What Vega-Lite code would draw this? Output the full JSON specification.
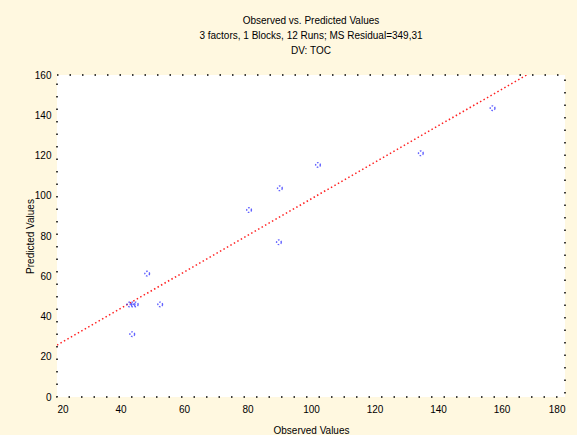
{
  "$schema": "https://vega.github.io/schema/vega-lite/v6.json",
  "autosize": "none",
  "width": 508,
  "height": 322,
  "padding": {"left": 57, "top": 75, "right": 12, "bottom": 38},
  "background": "#fff8e0",
  "view": {"fill": "white", "stroke": "#000000", "strokeDash": [1.5, 11], "strokeWidth": 1.5},
  "title": {
    "text": ["Observed vs. Predicted Values", "3 factors, 1 Blocks, 12 Runs; MS Residual=349,31", "DV: TOC"],
    "font": "Liberation Sans",
    "fontSize": 10,
    "fontWeight": "normal",
    "lineHeight": 15,
    "color": "#000000",
    "offset": 14,
    "anchor": "middle"
  },
  "config": {
    "axis": {
      "labelFont": "Liberation Sans",
      "titleFont": "Liberation Sans",
      "labelFontSize": 10,
      "titleFontSize": 10,
      "titleFontWeight": "normal",
      "labelColor": "#000000",
      "titleColor": "#000000",
      "grid": false,
      "domain": false,
      "ticks": false
    }
  },
  "layer": [
    {
      "data": {"values": [
        {"x": 20, "y": 25.8},
        {"x": 167.9, "y": 160}
      ]},
      "mark": {"type": "line", "color": "#ff2020", "strokeDash": [1.5, 2.5], "strokeWidth": 1.5, "clip": true},
      "encoding": {
        "x": {"field": "x", "type": "quantitative", "scale": {"domain": [20, 180], "nice": false}, "axis": {"values": [20, 40, 60, 80, 100, 120, 140, 160, 180], "title": "Observed Values", "labelPadding": 7, "titlePadding": 11}},
        "y": {"field": "y", "type": "quantitative", "scale": {"domain": [0, 160], "nice": false}, "axis": {"values": [0, 20, 40, 60, 80, 100, 120, 140, 160], "title": "Predicted Values", "labelPadding": 6, "titlePadding": -1}}
      }
    },
    {
      "data": {"values": [
        {"obs": 90.2, "pred": 103.7},
        {"obs": 80.5, "pred": 92.9},
        {"obs": 89.9, "pred": 76.9},
        {"obs": 48.4, "pred": 61.3},
        {"obs": 42.8, "pred": 46.0},
        {"obs": 43.8, "pred": 46.0},
        {"obs": 44.8, "pred": 46.0},
        {"obs": 52.5, "pred": 46.0},
        {"obs": 43.7, "pred": 31.2},
        {"obs": 157.2, "pred": 143.5},
        {"obs": 134.6, "pred": 121.1},
        {"obs": 102.2, "pred": 115.3}
      ]},
      "mark": {"type": "point", "shape": "circle", "filled": false, "color": "#2020ff", "size": 22, "strokeWidth": 1.4, "strokeDash": [1.5, 1.5]},
      "encoding": {
        "x": {"field": "obs", "type": "quantitative"},
        "y": {"field": "pred", "type": "quantitative"}
      }
    }
  ]
}
